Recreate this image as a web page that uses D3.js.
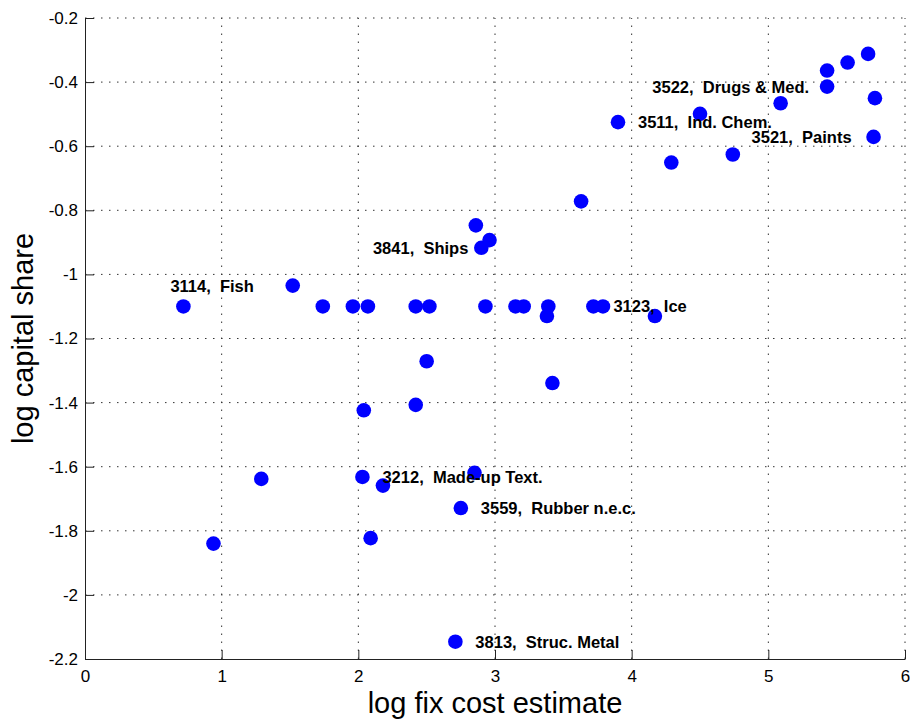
<!DOCTYPE html>
<html>
<head>
<meta charset="utf-8">
<script src="https://cdn.jsdelivr.net/npm/d3@7/dist/d3.min.js"></script>
<style>
  body { margin: 0; background: #fff; }
  text { font-family: "Liberation Sans", Arial, Helvetica, sans-serif; }
  .axis text { font-size: 17px; fill: #000; }
  .axis path, .axis line { stroke: #222; }
  .grid line { stroke: #333; stroke-dasharray: 1.5,6.5; stroke-width: 1; }
  .lbl { font-size: 16.5px; font-weight: bold; white-space: pre; }
</style>
</head>
<body>
<svg id="chart"></svg>
<script>
// log fix cost estimate (x) and log capital share (y), one entry per industry
var fixCost = [0.72, 1.52, 1.74, 1.96, 2.07, 2.42, 2.52, 2.93, 3.15, 3.21,
               3.39, 3.38, 3.72, 3.79, 4.17, 2.86, 2.96, 2.90, 3.63, 3.90,
               4.29, 4.50, 4.74, 5.09, 5.43, 5.43, 5.58, 5.73, 5.78, 5.77,
               2.50, 2.42, 2.04, 1.29, 2.03, 2.18, 2.85, 2.75, 2.09, 0.94,
               3.42, 2.71];
var capShare = [-1.10, -1.035, -1.10, -1.10, -1.10, -1.10, -1.10, -1.10, -1.10, -1.10,
                -1.10, -1.13, -1.10, -1.10, -1.13, -0.847, -0.893, -0.917, -0.772, -0.525,
                -0.651, -0.499, -0.626, -0.466, -0.364, -0.414, -0.339, -0.312, -0.450, -0.571,
                -1.271, -1.407, -1.424, -1.638, -1.632, -1.659, -1.619, -1.729, -1.823, -1.840,
                -1.339, -2.146];

// labelled industries: ISIC code, name, index of the point they belong to
var labelCodes = ["3114", "3841", "3123", "3212", "3559", "3813", "3511", "3522", "3521"];
var labelNames = ["Fish", "Ships", "Ice", "Made-up Text.", "Rubber n.e.c.", "Struc. Metal", "Ind. Chem.", "Drugs & Med.", "Paints"];
var labelPoint = [0, 17, 12, 34, 37, 41, 19, 25, 29];

var xTicks = [0, 1, 2, 3, 4, 5, 6];
var yTicks = [-2.2, -2, -1.8, -1.6, -1.4, -1.2, -1, -0.8, -0.6, -0.4, -0.2];

var xLabel = "log fix cost estimate";
var yLabel = "log capital share";

var width = 910;
var height = 719;
var margin = {top: 18, left: 85, right: 5, bottom: 60};

var svg = d3.select("#chart")
    .attr("width", width)
    .attr("height", height);

var x = d3.scaleLinear()
    .domain([0, 6])
    .range([margin.left, width - margin.right]);

var y = d3.scaleLinear()
    .domain([-2.2, -0.2])
    .range([height - margin.bottom, margin.top]);

// dotted grid
var grid = svg.append("g").attr("class", "grid");
grid.selectAll(".gx")
    .data(xTicks.slice(1))
    .enter().append("line")
    .attr("x1", function(d) { return x(d); })
    .attr("x2", function(d) { return x(d); })
    .attr("y1", y(-2.2))
    .attr("y2", y(-0.2));
grid.selectAll(".gy")
    .data(yTicks.slice(1))
    .enter().append("line")
    .attr("x1", x(0))
    .attr("x2", x(6))
    .attr("y1", function(d) { return y(d); })
    .attr("y2", function(d) { return y(d); });

// axes, ticks pointing inward like matlab
svg.append("g")
    .attr("class", "axis")
    .attr("transform", `translate(0,${y(-2.2)})`)
    .call(d3.axisBottom(x).tickValues(xTicks).tickSizeInner(-9).tickSizeOuter(0).tickPadding(11)
        .tickFormat(function(d) { return String(d); }));

svg.append("g")
    .attr("class", "axis")
    .attr("transform", `translate(${x(0)},0)`)
    .call(d3.axisLeft(y).tickValues(yTicks).tickSizeInner(-9).tickSizeOuter(0).tickPadding(7)
        .tickFormat(function(d) { return String(d); }));

svg.append("text")
    .attr("x", (x(0) + x(6)) / 2)
    .attr("y", 713)
    .attr("text-anchor", "middle")
    .style("font-size", "29px")
    .text(xLabel);

svg.append("text")
    .attr("transform", `translate(33,${(y(-0.2) + y(-2.2)) / 2}) rotate(-90)`)
    .attr("text-anchor", "middle")
    .style("font-size", "29px")
    .text(yLabel);

// points
svg.selectAll(".dot")
    .data(d3.range(fixCost.length))
    .enter().append("circle")
    .attr("class", "dot")
    .attr("cx", function(i) { return x(fixCost[i]); })
    .attr("cy", function(i) { return y(capShare[i]); })
    .attr("r", 7.3)
    .attr("fill", "#0000ff");

// label placement relative to the point: [dx, dy, anchor]
var place = {
    "3114": [-13, -20, "start"],
    "3841": [-13, 0, "end"],
    "3522": [-18, 0, "end"],
    "3521": [-22, 0, "end"]
};

svg.selectAll(".lbl")
    .data(d3.range(labelCodes.length))
    .enter().append("text")
    .attr("class", "lbl")
    .attr("x", function(i) {
        var p = place[labelCodes[i]] || [20, 0, "start"];
        return x(fixCost[labelPoint[i]]) + p[0];
    })
    .attr("y", function(i) {
        var p = place[labelCodes[i]] || [20, 0, "start"];
        return y(capShare[labelPoint[i]]) + p[1];
    })
    .attr("dy", "0.36em")
    .attr("text-anchor", function(i) {
        var p = place[labelCodes[i]] || [20, 0, "start"];
        return p[2];
    })
    .text(function(i) { return labelCodes[i] + ",  " + labelNames[i]; });
</script>
</body>
</html>
